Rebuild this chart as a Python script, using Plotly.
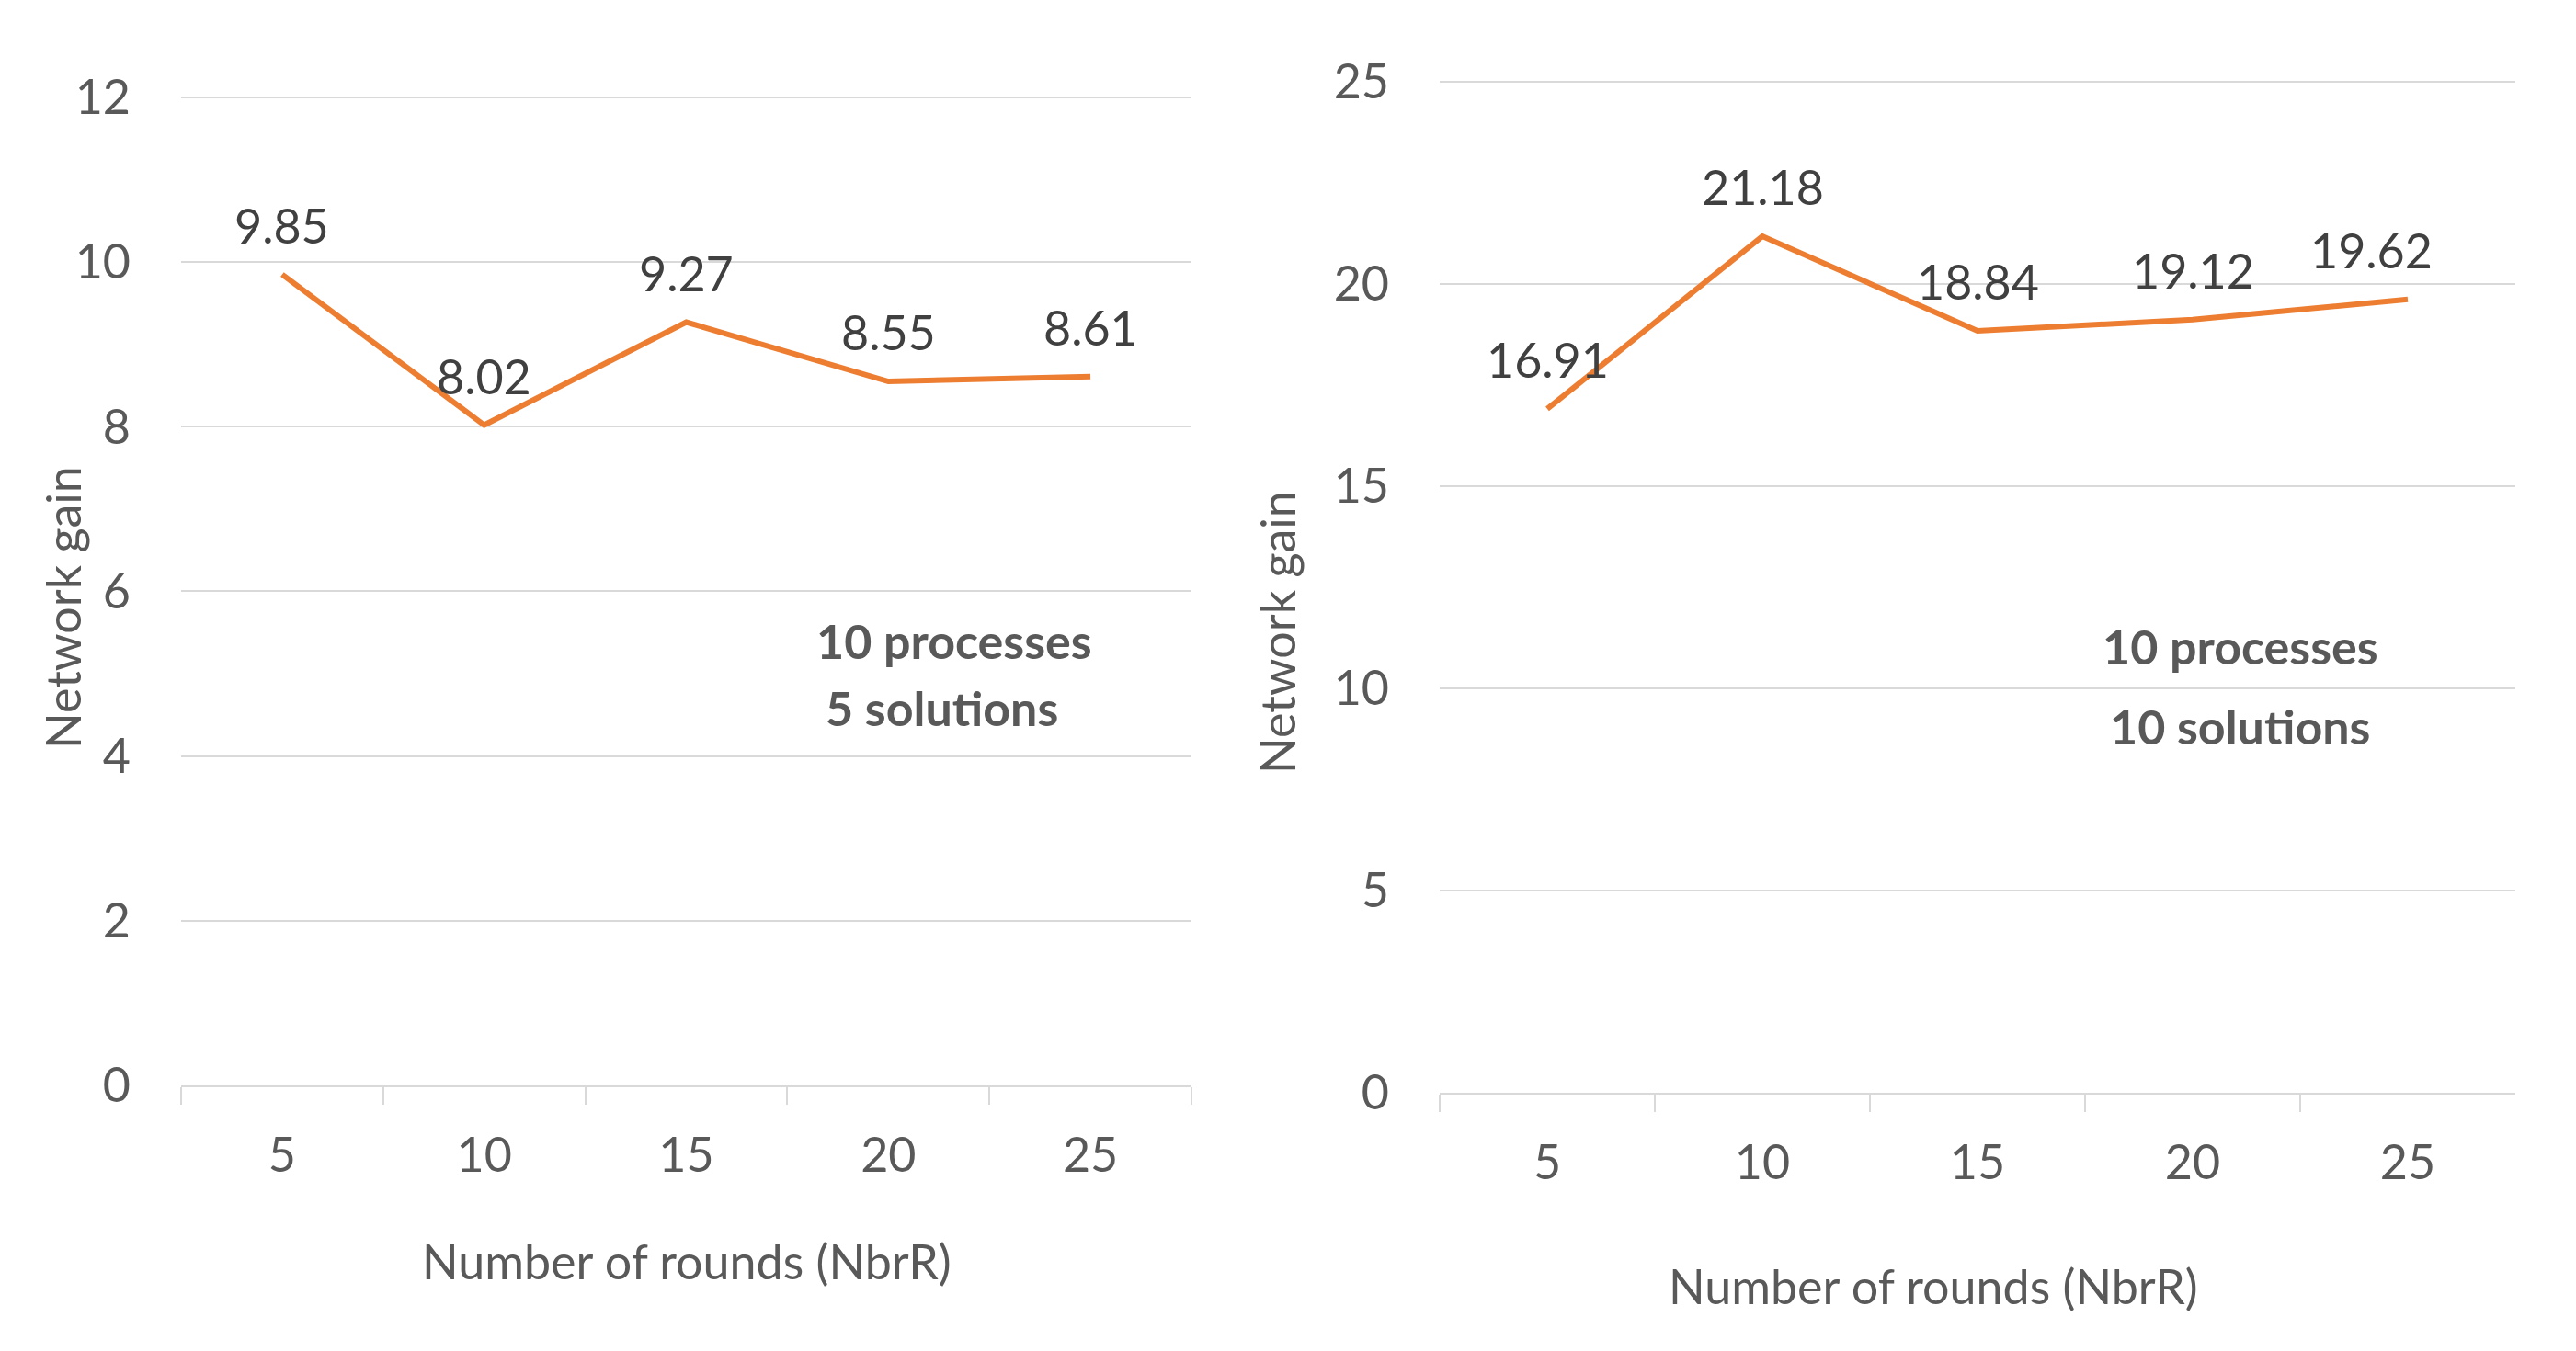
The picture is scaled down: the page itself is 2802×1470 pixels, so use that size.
import plotly.graph_objects as go

rounds = ["5", "10", "15", "20", "25"]
gain_5_solutions = [9.85, 8.02, 9.27, 8.55, 8.61]
gain_10_solutions = [16.91, 21.18, 18.84, 19.12, 19.62]

W, H = 2802, 1470
OFF = 8  # page body margin offset in the screenshot
FONT = "Lato, 'Open Sans', sans-serif"
TICK_COLOR = "#595959"
LABEL_COLOR = "#404040"
GRID = "#D9D9D9"
ORANGE = "#ED7D31"
FS = 52
EPS1 = 0.02
EPS2 = 0.04

def px(x):
    return (x - OFF) / W

def py(y):
    return 1 - (y - OFF) / H

fig = go.Figure()

fig.add_trace(go.Scatter(x=rounds, y=gain_5_solutions, mode="lines",
                         line=dict(color=ORANGE, width=6), xaxis="x", yaxis="y",
                         showlegend=False, hoverinfo="x+y"))
fig.add_trace(go.Scatter(x=rounds, y=gain_10_solutions, mode="lines",
                         line=dict(color=ORANGE, width=6), xaxis="x2", yaxis="y2",
                         showlegend=False, hoverinfo="x+y"))

def xaxis(domain, anchor):
    return dict(domain=domain, anchor=anchor, type="category", range=[-0.5, 4.5],
                showgrid=False, showline=True, linecolor=GRID, linewidth=2,
                ticks="outside", tickson="boundaries", ticklen=19, tickcolor=GRID, tickwidth=2,
                tickfont=dict(family=FONT, size=FS, color=TICK_COLOR),
                ticklabelstandoff=30, fixedrange=True, automargin=False)

def yaxis(domain, anchor, rng, dtick):
    return dict(domain=domain, anchor=anchor, range=rng, dtick=dtick, tick0=0,
                showgrid=True, gridcolor=GRID, gridwidth=2, zeroline=False,
                showline=False, ticks="",
                tickfont=dict(family=FONT, size=FS, color=TICK_COLOR),
                ticklabelstandoff=54, fixedrange=True, automargin=False)

# pixel geometry: left plot 0 at y=1181, 12 at y=106; right plot 0 at 1189, 25 at 89
ppu1 = (1181 - 106) / 12
ppu2 = (1189 - 89) / 25
top1 = 106 - EPS1 * ppu1
top2 = 89 - EPS2 * ppu2

fig.update_layout(
    width=W, height=H, margin=dict(l=0, r=0, t=0, b=0, autoexpand=False),
    paper_bgcolor="white", plot_bgcolor="white",
    xaxis=xaxis([px(197), px(1296)], "y"),
    yaxis=yaxis([py(1181), py(top1)], "x", [0, 12 + EPS1], 2),
    xaxis2=xaxis([px(1566), px(2736)], "y2"),
    yaxis2=yaxis([py(1189), py(top2)], "x2", [0, 25 + EPS2], 5),
)

annotations = []
# data labels (category axis positions are category indices)
for i, v in enumerate(gain_5_solutions):
    annotations.append(dict(x=i, y=v, xref="x", yref="y", text=f"{v:.2f}", showarrow=False,
                            yshift=54, yanchor="middle",
                            font=dict(family=FONT, size=FS, color=LABEL_COLOR)))
for i, v in enumerate(gain_10_solutions):
    annotations.append(dict(x=i, y=v, xref="x2", yref="y2", text=f"{v:.2f}", showarrow=False,
                            yshift=54, xshift=-40 if i == 4 else 0, yanchor="middle",
                            font=dict(family=FONT, size=FS, color=LABEL_COLOR)))

def paper_text(x, y, text, bold=False, angle=0):
    return dict(x=px(x), y=py(y), xref="paper", yref="paper", text=text, showarrow=False,
                xanchor="center", yanchor="middle", textangle=angle,
                font=dict(family=FONT, size=FS, color=TICK_COLOR,
                          weight="bold" if bold else "normal"))

annotations += [
    paper_text(747, 1372, "Number of rounds (NbrR)"),
    paper_text(2103, 1399, "Number of rounds (NbrR)"),
    paper_text(68, 661, "Network gain", angle=-90),
    paper_text(1389, 688, "Network gain", angle=-90),
    paper_text(1038, 697, "10 processes", bold=True),
    paper_text(1024, 770, "5 solutions", bold=True),
    paper_text(2437, 703, "10 processes", bold=True),
    paper_text(2436, 790, "10 solutions", bold=True),
]
fig.update_layout(annotations=annotations)

fig.write_html("out.html")
